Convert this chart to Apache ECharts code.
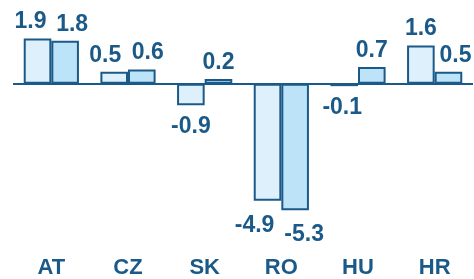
<!DOCTYPE html>
<html>
<head>
    <meta charset="utf-8">
    <title>ECharts</title>
    <script src="https://cdn.jsdelivr.net/npm/echarts@6/dist/echarts.min.js"></script>
    <style>html, body { margin: 0; padding: 0; background: #fff; }</style>
</head>
<body>
<div id="main" style="height: 279px; width: 474px;"></div>
<script type="text/javascript">
    var categories = ['AT', 'CZ', 'SK', 'RO', 'HU', 'HR'];
    var seriesA = [1.9, 0.5, -0.9, -4.9, -0.1, 1.6];
    var seriesB = [1.8, 0.6, 0.2, -5.3, 0.7, 0.5];
    // horizontal nudges of the value labels so neighbours don't collide
    var shiftA = [-7, -9, 0, -13, -2, 0];
    var shiftB = [7, 6, 0, 9, 0, 7];

    var dark = '#1b5a88';
    var font = '"Liberation Sans", Arial, sans-serif';

    var myChart = echarts.init(document.getElementById('main'));

    function labelStyle() {
        return {
            show: true,
            color: dark,
            fontFamily: font,
            fontWeight: 'bold',
            fontSize: 23,
            formatter: function (p) { return p.value.toFixed(1); }
        };
    }

    function toData(arr, shift) {
        return arr.map(function (v, i) {
            return {
                value: v,
                label: {
                    position: v < 0 ? 'bottom' : 'top',
                    distance: v < 0 ? 10 : 5,
                    offset: [shift[i], v < -3 ? 3 : 0]
                }
            };
        });
    }

    var option = {
        animation: false,
        grid: { left: 13, right: 1, top: 36, bottom: 51 },
        xAxis: {
            type: 'category',
            data: categories,
            axisLine: { show: false, onZero: false },
            axisTick: { show: false },
            axisLabel: {
                color: dark,
                fontFamily: font,
                fontWeight: 'bold',
                fontSize: 22,
                margin: 30
            }
        },
        yAxis: {
            type: 'value',
            min: -6,
            max: 2,
            show: false,
            splitLine: { show: false }
        },
        series: [
            {
                type: 'bar',
                data: toData(seriesA, shiftA),
                barGap: '0%',
                barCategoryGap: '28%',
                itemStyle: { color: '#ddf0fc', borderColor: dark, borderWidth: 2 },
                label: labelStyle(),
                markLine: {
                    silent: true,
                    symbol: 'none',
                    label: { show: false },
                    lineStyle: { color: dark, width: 2, type: 'solid' },
                    data: [{ yAxis: 0 }]
                }
            },
            {
                type: 'bar',
                data: toData(seriesB, shiftB),
                itemStyle: { color: '#bde3f8', borderColor: dark, borderWidth: 2 },
                label: labelStyle()
            }
        ]
    };

    myChart.setOption(option);
</script>
</body>
</html>
